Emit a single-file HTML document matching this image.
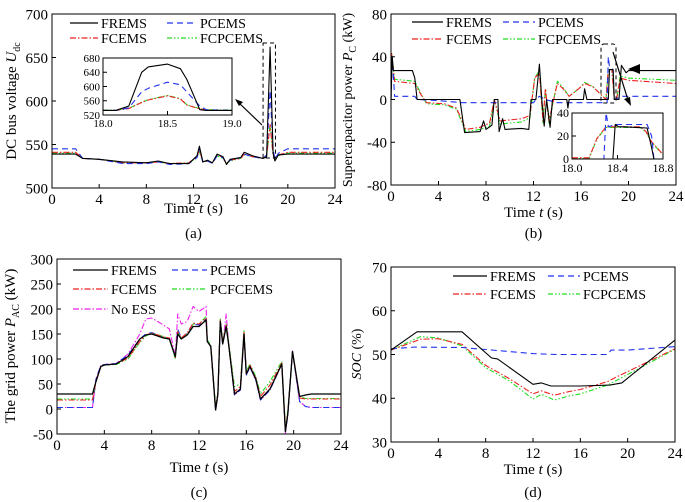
<!DOCTYPE html>
<html><head><meta charset="utf-8"><style>
html,body{margin:0;padding:0;background:#fff;}
svg{display:block;font-family:"Liberation Serif",serif;}
</style></head><body>
<svg id="fig" width="685" height="502" viewBox="0 0 685 502" xmlns="http://www.w3.org/2000/svg"></svg>
<script>
// ---------- data ----------
const aTime=[0,2,2.6,4,6,8,9,10,11.6,12.3,12.5,12.8,13.2,13.6,14,14.5,14.8,15.1,16,16.3,17,17.9,18.2,18.5,18.75,18.9,19.2,20,24];
const aFREMS=[539,539,534,533,530,529,531,528,528,537,548,530,532,529,539,536,527,533,535,541,537,534,536,662,540,531,538,539,539];
const aPCEMS=[545,545,534,533,528,528,530,527,528,535,545,529,531,528,537,535,528,532,535,539,536,534,538,612,545,533,540,545,545];
const aFCEMS=[541,541,534,533,529,529,530,528,529,536,544,530,531,529,538,535,528,532,534,539,536,534,536,573,538,532,538,541,541];
const aFCPCEMS=[540,540,534,533,529,529,530,528,529,535,542,530,531,529,537,534,528,531,534,538,536,534,536,573,538,532,537,540,540];
const aInTime=[18.0,18.1,18.2,18.3,18.35,18.5,18.6,18.65,18.75,18.8,19.0];
const aInFREMS=[533,533,545,640,655,663,650,620,535,533,533];
const aInPCEMS=[533,533,540,585,595,612,605,585,545,535,533];
const aInFCEMS=[533,533,538,555,562,574,565,548,537,534,533];

const bTimeF=[0,0.1,0.2,1.8,2,2.2,5.8,6.2,7.5,7.8,8,8.5,8.7,9,9.1,9.4,9.6,11,11.6,11.8,12.2,12.5,12.7,12.9,13.1,13.4,13.6,14.8,14.9,15,16.2,16.3,16.5,18.3,18.4,18.7,18.8,19.2,19.4,19.8,20,24];
const bFREMS=[0,40,27,27,20,0,0,-31,-30,-20,-28,-24,0,0,-30,-18,-28,-27,-28,0,0,33,0,-25,0,-26,0,0,-8,0,0,10,0,0,28,28,0,0,32,25,27,27];
const bTimeP=[0,0.1,0.3,2,2.2,4,6,12,12.2,12.5,13,14,18.2,18.3,18.4,18.7,18.8,19.5,24];
const bPCEMS=[0,40,3,3,0,-1,-3,-3,0,3,0,-3,-3,40,30,28,0,3,3];
const bTimeC=[0,0.05,0.3,2,2.5,3,4.5,5.5,5.8,6.3,7.5,8.3,8.7,9.2,11,11.7,12.1,12.5,12.8,13,13.3,13.7,14,14.5,15,15.8,16.3,17,18.1,18.3,18.6,18.8,19,19.3,20,24];
const bFCEMS=[0,43,17,15,5,-3,-4,-8,-15,-28,-26,-22,0,-20,-18,-15,20,25,-20,10,-20,0,15,10,3,10,15,12,0,28,28,0,0,20,18,15];
const bFCPCEMS=[0,43,19,17,6,-4,-5,-9,-17,-30,-28,-25,0,-23,-21,-17,20,27,-22,10,-22,0,17,11,3,10,16,12,0,28,28,0,0,22,20,18];
const bInTime=[18.0,18.1,18.15,18.22,18.3,18.6,18.65,18.7,18.8];
const bInFC=[1,1,1,18,28,28,24,15,4];
const bInPTime=[18.0,18.28,18.3,18.32,18.38,18.66,18.7,18.72,18.8];
const bInPC=[0,0,40,28,30,30,20,0,0];
const bInFTime=[18.0,18.36,18.38,18.41,18.45,18.66,18.7,18.72,18.8];
const bInFR=[0,0,30,28,28,27,10,0,0];

const cTime=[0,3,3.3,3.7,4,5,6,7,7.5,8,9,9.5,10,10.2,10.5,11,11.5,12,12.6,12.7,13,13.4,13.6,13.8,14,14.3,14.5,15,15.5,15.8,16,16.3,16.8,17.2,18,19,19.3,19.5,19.9,20.5,21,21.5,24];
const cFREMS=[30,30,55,85,88,90,105,140,148,150,142,140,105,150,140,148,165,165,178,135,125,-2,30,175,130,165,130,30,40,150,70,85,60,20,40,90,-45,-10,115,25,28,30,30];
const cFCEMS=[18,18,55,85,88,90,102,135,148,152,144,142,103,155,142,152,172,170,182,135,125,0,32,178,132,168,132,35,45,155,72,88,62,25,48,92,-40,-8,115,22,20,20,20];
const cFCPCEMS=[20,20,55,85,88,89,100,133,146,152,145,140,100,155,142,150,170,170,185,138,128,5,35,180,135,170,135,45,50,158,75,90,65,30,55,95,-35,-5,115,25,21,21,21];
const cPCEMS=[3,3,60,87,89,91,108,140,150,153,143,140,103,160,142,152,170,168,180,137,125,-2,28,176,130,166,130,28,38,150,68,84,58,18,38,90,-45,-12,115,15,5,3,3];
const cNoESS=[3,3,60,87,89,91,110,150,180,182,168,160,105,190,170,175,205,195,205,137,125,-3,28,178,130,190,130,28,38,150,68,84,58,18,38,90,-48,-12,116,15,5,3,3];

const dTimeF=[0,2.2,6,8.5,9,12,12.7,13.5,16,18.5,19.5,24];
const dFREMS=[51,55.2,55.2,49.2,49,43.2,43.5,42.8,42.8,43,43.5,53.3];
const dTimeP=[0,2,6,12,14,18.3,18.6,20,24];
const dPCEMS=[51.3,51.7,51.6,50.2,50,50,51,51,51.8];
const dTimeC=[0,2.5,4,6,8,10,12,12.7,13.8,15,16,18.3,19,24];
const dFCEMS=[51,53.5,53.6,52.3,47.5,44.5,41,41.7,40.7,41.5,42,43.8,44.8,51.3];
const dFCPCEMS=[51,54.1,53.8,52,47,44,39.8,40.9,39.6,40.5,41,43,44,51.2];

const xTicks=[0,4,8,12,16,20,24];
const aYTicks=[500,550,600,650,700];
const bYTicks=[-80,-40,0,40,80];
const cYTicks=[-50,0,50,100,150,200,250,300];
const dYTicks=[30,40,50,60,70];

// ---------- drawing ----------
const NS="http://www.w3.org/2000/svg";
const svg=document.getElementById('fig');
function mk(tag,attrs,parent){const e=document.createElementNS(NS,tag);for(const k in attrs)e.setAttribute(k,attrs[k]);(parent||svg).appendChild(e);return e;}
function txt(s,x,y,size,anchor,parent){const t=mk('text',{x:x,y:y,'font-size':size,'text-anchor':anchor||'middle',fill:'#000'},parent);t.textContent=s;return t;}
const STY={
 FREMS:{stroke:'#000',dash:''},
 PCEMS:{stroke:'#2233ee',dash:'6,4'},
 FCEMS:{stroke:'#ee2222',dash:'6,2,1.5,2'},
 FCPCEMS:{stroke:'#22dd22',dash:'5,2,1.5,2,1.5,2'},
 NOESS:{stroke:'#ee22ee',dash:'6,2,1.5,2'}
};
function axes(x0,x1,y0,y1,xmin,xmax,ymin,ymax){
  return {sx:v=>x0+(v-xmin)/(xmax-xmin)*(x1-x0), sy:v=>y1-(v-ymin)/(ymax-ymin)*(y1-y0), x0,x1,y0,y1};
}
function series(ax,ts,vs,style,name,w,parent){
  let d='';for(let i=0;i<ts.length;i++)d+=(i?'L':'M')+ax.sx(ts[i]).toFixed(1)+','+ax.sy(vs[i]).toFixed(1);
  const p=mk('path',{d:d,fill:'none',stroke:style.stroke,'stroke-width':w||1.1,'stroke-dasharray':style.dash,'stroke-linejoin':'round'},parent);
  
  
  return p;
}
function frame(ax,xt,yt,xfmt,yfmt,fs,g,xoff){
  mk('rect',{x:ax.x0,y:ax.y0,width:ax.x1-ax.x0,height:ax.y1-ax.y0,fill:'none',stroke:'#000','stroke-width':1},g);
  xt.forEach(v=>{const x=ax.sx(v);mk('line',{x1:x,x2:x,y1:ax.y1,y2:ax.y1-4,stroke:'#000'},g);txt(xfmt(v),x,ax.y1+fs+1,fs,'middle',g);});
  yt.forEach(v=>{const y=ax.sy(v);mk('line',{x1:ax.x0,x2:ax.x0+4,y1:y,y2:y,stroke:'#000'},g);txt(yfmt(v),ax.x0-(xoff||3),y+fs*0.35,fs,'end',g);});
}
function legend(items,g){
  items.forEach(it=>{
    const lg=mk('g',{},g);
    
    
    mk('line',{x1:it[2],x2:it[3],y1:it[4],y2:it[4],stroke:it[1].stroke,'stroke-width':1.2,'stroke-dasharray':it[1].dash},lg);
    txt(it[0],it[3]+3,it[4]+5,14,'start',lg);
  });
}
function xtitle(x,y,g){
  const t=txt('',x,y,15,'middle',g);
  t.innerHTML='Time <tspan font-style="italic">t</tspan> (s)';
  
  
}
const I=v=>String(v);

// Panel (a)
(function(){
 const g=mk('g',{});
 const ax=axes(52,335,14,188,0,24,500,700);
 series(ax,aTime,aFCPCEMS,STY.FCPCEMS,'series-fcpcems',1.1,g);
 series(ax,aTime,aFCEMS,STY.FCEMS,'series-fcems',1.1,g);
 series(ax,aTime,aPCEMS,STY.PCEMS,'series-pcems',1.1,g);
 series(ax,aTime,aFREMS,STY.FREMS,'series-frems',1.1,g);
 frame(ax,xTicks,aYTicks,I,I,15,g,4);
 legend([['FREMS',STY.FREMS,70,98,23],['PCEMS',STY.PCEMS,167,197,23],['FCEMS',STY.FCEMS,70,98,38],['FCPCEMS',STY.FCPCEMS,167,197,38]],g);
 mk('rect',{x:ax.sx(17.9),y:43,width:ax.sx(18.95)-ax.sx(17.9),height:115,fill:'none',stroke:'#000','stroke-dasharray':'4,3'},g);
 mk('line',{x1:262,y1:125,x2:238,y2:102,stroke:'#000','stroke-width':1.2},g);
 mk('path',{d:'M235,99 L243,102 L239,106 Z',fill:'#000'},g);
 const ix=axes(103,232,58,115,18,19,520,680);
 mk('rect',{x:103,y:58,width:129,height:57,fill:'#fff',stroke:'none'},g);
 series(ix,aInTime,aInFCEMS.map(v=>v+1),STY.FCPCEMS,'inset-fcpcems',1.1,g);
 series(ix,aInTime,aInFCEMS,STY.FCEMS,'inset-fcems',1.1,g);
 series(ix,aInTime,aInPCEMS,STY.PCEMS,'inset-pcems',1.1,g);
 series(ix,aInTime,aInFREMS,STY.FREMS,'inset-frems',1.1,g);
 frame(ix,[18.0,18.5,19.0],[520,560,600,640,680],v=>v.toFixed(1),I,11,g,3);
 xtitle(ax.sx(12),213,g);
 const yl=txt('',16,101,15,'middle',g);yl.setAttribute('transform','rotate(-90 16 101)');
 yl.innerHTML='DC bus voltage <tspan font-style="italic">U</tspan><tspan font-size="10" dy="4">dc</tspan>';
 txt('(a)',ax.sx(12),238,15,'middle',g);
})();

// Panel (b)
(function(){
 const g=mk('g',{});
 const ax=axes(391,676,14,185,0,24,-80,80);
 series(ax,bTimeC,bFCPCEMS,STY.FCPCEMS,'series-fcpcems',1.1,g);
 series(ax,bTimeC,bFCEMS,STY.FCEMS,'series-fcems',1.1,g);
 series(ax,bTimeP,bPCEMS,STY.PCEMS,'series-pcems',1.1,g);
 series(ax,bTimeF,bFREMS,STY.FREMS,'series-frems',1.1,g);
 frame(ax,xTicks,bYTicks,I,I,15,g,4);
 legend([['FREMS',STY.FREMS,412,443,22],['PCEMS',STY.PCEMS,503,535,22],['FCEMS',STY.FCEMS,412,443,39],['FCPCEMS',STY.FCPCEMS,503,535,39]],g);
 mk('rect',{x:601,y:44,width:15,height:59,rx:3,fill:'none',stroke:'#000','stroke-dasharray':'4,3'},g);
 mk('line',{x1:613,y1:52,x2:628,y2:100,stroke:'#000','stroke-width':1.2},g);
 mk('path',{d:'M631,106 L624,99 L630,97 Z',fill:'#000'},g);
 mk('path',{d:'M628,69 L640,64 L640,74 Z',fill:'#000'},g);
 mk('rect',{x:572,y:113,width:91,height:46,fill:'#fff',stroke:'none'},g);
 const ix=axes(572,663,113,159,18,18.8,0,40);
 series(ix,bInTime,bInFC.map(v=>v-0.5),STY.FCPCEMS,'inset-fcpcems',1.1,g);
 series(ix,bInTime,bInFC,STY.FCEMS,'inset-fcems',1.1,g);
 series(ix,bInPTime,bInPC,STY.PCEMS,'inset-pcems',1.1,g);
 series(ix,bInFTime,bInFR,STY.FREMS,'inset-frems',1.1,g);
 frame(ix,[18.0,18.4,18.8],[0,20,40],v=>v.toFixed(1),I,12,g,3);
 xtitle(ax.sx(12),217,g);
 const yl=txt('',352,100,14,'middle',g);yl.setAttribute('transform','rotate(-90 352 100)');
 yl.innerHTML='Supercapacitor power <tspan font-style="italic">P</tspan><tspan font-size="10" dy="4">C</tspan><tspan dy="-4"> (kW)</tspan>';
 txt('(b)',ax.sx(12),238,15,'middle',g);
})();

// Panel (c)
(function(){
 const g=mk('g',{});
 const ax=axes(57,341,259,434,0,24,-50,300);
 series(ax,cTime,cNoESS,STY.NOESS,'series-no-ess',1.1,g);
 series(ax,cTime,cPCEMS,STY.PCEMS,'series-pcems',1.1,g);
 series(ax,cTime,cFCPCEMS,STY.FCPCEMS,'series-pcfcems',1.1,g);
 series(ax,cTime,cFCEMS,STY.FCEMS,'series-fcems',1.1,g);
 series(ax,cTime,cFREMS,STY.FREMS,'series-frems',1.3,g);
 frame(ax,xTicks,cYTicks,I,I,15,g,4);
 legend([['FREMS',STY.FREMS,73,108,270],['PCEMS',STY.PCEMS,172,207,270],['FCEMS',STY.FCEMS,73,108,289],['PCFCEMS',STY.FCPCEMS,172,207,289],['No ESS',STY.NOESS,73,108,309]],g);
 xtitle(ax.sx(12),472,g);
 const yl=txt('',15,346,15,'middle',g);yl.setAttribute('transform','rotate(-90 15 346)');
 yl.innerHTML='The grid power <tspan font-style="italic">P</tspan><tspan font-size="10" dy="4">AC</tspan><tspan dy="-4"> (kW)</tspan>';
 txt('(c)',ax.sx(12),497,15,'middle',g);
})();

// Panel (d)
(function(){
 const g=mk('g',{});
 const ax=axes(391,675,267,442,0,24,30,70);
 series(ax,dTimeC,dFCPCEMS,STY.FCPCEMS,'series-fcpcems',1.1,g);
 series(ax,dTimeC,dFCEMS,STY.FCEMS,'series-fcems',1.1,g);
 series(ax,dTimeP,dPCEMS,STY.PCEMS,'series-pcems',1.1,g);
 series(ax,dTimeF,dFREMS,STY.FREMS,'series-frems',1.1,g);
 frame(ax,xTicks,dYTicks,I,I,15,g,4);
 legend([['FREMS',STY.FREMS,453,487,276],['PCEMS',STY.PCEMS,548,580,276],['FCEMS',STY.FCEMS,453,487,294],['FCPCEMS',STY.FCPCEMS,548,580,294]],g);
 xtitle(ax.sx(12),474,g);
 const yl=txt('',361,354,14,'middle',g);yl.setAttribute('transform','rotate(-90 361 354)');
 yl.innerHTML='<tspan font-style="italic">SOC</tspan> (%)';
 txt('(d)',ax.sx(12),497,15,'middle',g);
})();
</script>
</body></html>
